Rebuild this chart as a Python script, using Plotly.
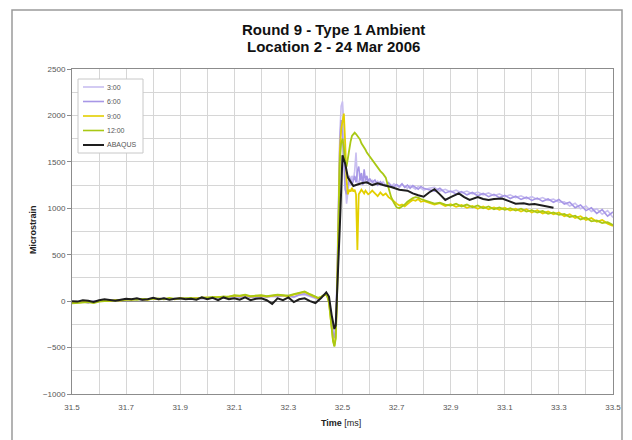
import plotly.graph_objects as go

# ---------------- data ----------------
SERIES_NAMES = ["3:00", "6:00", "9:00", "12:00", "ABAQUS"]
SERIES_COLORS = ["#c9bff0", "#a797e6", "#e3cf00", "#a9c814", "#1e1e1e"]

T_MEAS = [31.50, 31.52, 31.54, 31.56, 31.58, 31.60, 31.62, 31.64, 31.66, 31.68,
          31.70, 31.72, 31.74, 31.76, 31.78, 31.80, 31.82, 31.84, 31.86, 31.88,
          31.90, 31.92, 31.94, 31.96, 31.98, 32.00, 32.02, 32.04, 32.06, 32.08,
          32.10, 32.12, 32.14, 32.16, 32.18, 32.20, 32.22, 32.24, 32.26, 32.28,
          32.30, 32.32, 32.34, 32.36, 32.38, 32.40,
          32.41, 32.42, 32.43, 32.44,
          32.445, 32.45, 32.455, 32.46, 32.465, 32.47, 32.475, 32.48, 32.485, 32.49,
          32.495, 32.50, 32.505, 32.51, 32.515, 32.52, 32.525, 32.53, 32.535, 32.54,
          32.545, 32.55, 32.555, 32.56, 32.565, 32.57, 32.575, 32.58, 32.585, 32.59,
          32.595, 32.60,
          32.61, 32.62, 32.63, 32.64, 32.65, 32.66, 32.67, 32.68, 32.69, 32.70,
          32.71, 32.72, 32.73, 32.74, 32.75, 32.76, 32.77, 32.78, 32.79, 32.80,
          32.82, 32.84, 32.86, 32.88, 32.90, 32.92, 32.94, 32.96, 32.98, 33.00,
          33.02, 33.04, 33.06, 33.08, 33.10, 33.12, 33.14, 33.16, 33.18, 33.20,
          33.22, 33.24, 33.26, 33.28, 33.30, 33.32, 33.34, 33.36, 33.38, 33.40,
          33.42, 33.44, 33.46, 33.48, 33.50]

V_0300 = [-10, -5, 0, -15, -5, 5, 0, 10, 5, 15, 20, 10, 25, 15, 20, 30, 15, 25, 20, 30,
          25, 35, 20, 30, 25, 40, 30, 35, 45, 30, 55, 40, 50, 45, 35, 55, 40, 50, 45, 60,
          50, 40, 65, 70, 50, 30,
          20, 40, 60, 70,
          40, 0, -100, -250, -350, -380, -250, 300, 1200, 1800,
          2100, 2150, 1900, 1300, 1050, 1150, 1300, 1250, 1350, 1300,
          1400, 1600, 1300, 1250, 1350, 1300, 1320, 1280, 1300, 1270,
          1290, 1280,
          1300, 1260, 1290, 1250, 1285, 1245, 1275, 1235, 1265, 1245,
          1225, 1255, 1235, 1215, 1245, 1225, 1205, 1235, 1215, 1195,
          1215, 1225, 1185, 1205, 1175, 1195, 1165, 1185, 1155, 1175,
          1145, 1165, 1135, 1155, 1125, 1145, 1115, 1135, 1105, 1125,
          1095, 1115, 1085, 1100, 1065, 1070, 1025, 1055, 995, 1025,
          965, 995, 935, 975, 900]

V_0600 = [-15, -10, -5, -20, 0, 0, 5, 5, 10, 10, 15, 20, 20, 10, 25, 25, 20, 30, 20, 25,
          30, 30, 25, 35, 30, 35, 40, 30, 45, 40, 50, 45, 55, 40, 45, 50, 45, 55, 50, 55,
          60, 45, 70, 80, 55, 35,
          25, 45, 65, 75,
          45, 10, -80, -220, -330, -400, -300, 200, 1000, 1700,
          1950, 1800, 1500, 1200, 1150, 1250, 1350, 1300, 1250, 1300,
          1350, 1280, 1400, 1450, 1300, 1380, 1250, 1420, 1300, 1350,
          1280, 1320,
          1280, 1305, 1250, 1285, 1255, 1240, 1275, 1245, 1230, 1255,
          1235, 1265, 1225, 1250, 1215, 1245, 1225, 1205, 1235, 1215,
          1200, 1185, 1215, 1165, 1185, 1155, 1180, 1145, 1170, 1135,
          1160, 1125, 1150, 1115, 1140, 1105, 1130, 1095, 1120, 1085,
          1110, 1075, 1100, 1065, 1095, 1045, 1065, 1005, 1035, 975,
          1005, 945, 985, 915, 960]

V_0900 = [-20, -15, -10, -5, -15, 0, 5, 0, 10, 5, 20, 15, 25, 20, 15, 30, 20, 25, 30, 20,
          35, 25, 30, 30, 35, 40, 35, 45, 40, 50, 60, 55, 65, 50, 55, 60, 50, 55, 65, 60,
          55, 70, 85, 100, 70, 45,
          30, 40, 60, 70,
          40, -20, -150, -300, -420, -480, -380, 100, 900, 1600,
          1850, 1950, 2020, 1700, 1300, 1150, 1200, 1180, 1220, 1180,
          1200, 1150, 550, 1150, 1170, 1200, 1180, 1160, 1190, 1170,
          1150, 1160,
          1190, 1160, 1130, 1170, 1140, 1160, 1120, 1100, 1070, 1050,
          1030, 1040, 1020, 1050, 1070, 1090, 1080, 1100, 1070, 1080,
          1060, 1040, 1055, 1025, 1045, 1015, 1035, 1005, 1025, 995,
          1020, 990, 1010, 985, 1005, 975, 995, 965, 990, 955,
          980, 945, 965, 935, 955, 915, 935, 895, 915, 875,
          895, 855, 875, 835, 810]

V_1200 = [-25, -20, -15, -10, -20, -5, 0, 5, 5, 10, 15, 20, 15, 25, 20, 25, 30, 20, 35, 25,
          30, 30, 35, 25, 40, 35, 45, 40, 50, 45, 65, 60, 70, 55, 60, 65, 55, 60, 70, 65,
          60, 75, 90, 105, 75, 50,
          35, 45, 65, 75,
          45, -10, -140, -310, -430, -490, -400, 50, 800, 1500,
          1700, 1750, 1650, 1500, 1450, 1550, 1650, 1720, 1780, 1800,
          1815, 1800, 1780, 1760, 1740, 1700, 1680, 1650, 1630, 1600,
          1580, 1550,
          1510, 1480, 1440, 1400, 1370, 1330, 1220, 1120, 1060, 1010,
          1000, 1020, 1040, 1070, 1090, 1110, 1120, 1115, 1100, 1090,
          1070, 1050, 1060, 1040, 1030, 1050, 1020, 1040, 1010, 1030,
          1000, 1020, 990, 1010, 985, 1000, 975, 995, 965, 980,
          955, 970, 940, 955, 930, 940, 905, 920, 880, 900,
          860, 870, 840, 850, 820]

T_ABQ = [31.50, 31.52, 31.54, 31.56, 31.58, 31.60, 31.62, 31.64, 31.66, 31.68,
         31.70, 31.72, 31.74, 31.76, 31.78, 31.80, 31.82, 31.84, 31.86, 31.88,
         31.90, 31.92, 31.94, 31.96, 31.98, 32.00, 32.02, 32.04, 32.06, 32.08,
         32.10, 32.12, 32.14, 32.16, 32.18, 32.20, 32.22, 32.24, 32.26, 32.28,
         32.30, 32.32, 32.34, 32.36, 32.38, 32.40,
         32.42, 32.44, 32.45, 32.46, 32.47, 32.475, 32.48, 32.49, 32.50, 32.51,
         32.52, 32.53, 32.54, 32.55, 32.57, 32.59, 32.61, 32.63, 32.65, 32.68,
         32.71, 32.74, 32.76, 32.78, 32.80, 32.82, 32.84, 32.86, 32.88, 32.90,
         32.93, 32.95, 32.97, 33.00, 33.02, 33.04, 33.06, 33.09, 33.11, 33.14,
         33.17, 33.19, 33.21, 33.24, 33.26, 33.28]

V_ABQ = [0, -5, 10, 5, -10, 10, 20, 10, 5, 15, 25, 20, 30, 15, 20, 35, 20, 30, 15, 25,
         30, 20, 25, 15, 40, 20, 35, 10, 40, 20, 30, 15, 40, 10, 25, 30, 10, -30, 30, 10,
         40, -10, 20, 30, 0, -20,
         30, 95, 50, -150, -300, -260, 50, 800, 1570, 1480,
         1330, 1290, 1240, 1250, 1270, 1280, 1250, 1270, 1250, 1230,
         1200, 1190, 1160, 1140, 1125, 1170, 1205, 1150, 1090, 1120,
         1160, 1120, 1090, 1120, 1100, 1090, 1100, 1105, 1080, 1050,
         1055, 1040, 1045, 1030, 1020, 1005]

X_TICKS = [31.5, 31.7, 31.9, 32.1, 32.3, 32.5, 32.7, 32.9, 33.1, 33.3, 33.5]
Y_TICKS = [-1000, -500, 0, 500, 1000, 1500, 2000, 2500]

TITLE_LINES = ["Round 9 - Type 1 Ambient", "Location 2 - 24 Mar 2006"]

# ---------------- figure ----------------
W, H = 632, 440
L, R, T, B = 72, 19, 69, 46
PW, PH = W - L - R, H - T - B


def px(x):
    return (x - L) / PW


def py(y):
    return (H - B - y) / PH


series_x = [T_MEAS, T_MEAS, T_MEAS, T_MEAS, T_ABQ]
series_y = [V_0300, V_0600, V_0900, V_1200, V_ABQ]
widths = [1.6, 1.6, 1.8, 1.8, 2.0]

fig = go.Figure()
for name, col, xs, ys, w in zip(SERIES_NAMES, SERIES_COLORS, series_x, series_y, widths):
    fig.add_trace(go.Scatter(x=xs, y=ys, mode="lines", name=name,
                             line=dict(color=col, width=w), showlegend=False))

font_main = "Liberation Sans, Arial, sans-serif"

shapes = []
annotations = []

# outer chart-area frame
shapes.append(dict(type="rect", xref="paper", yref="paper",
                   x0=px(12), x1=px(622), y0=py(441), y1=py(10),
                   line=dict(color="#9a9a9a", width=1.5), layer="below"))

# custom legend box
lx0, lx1, ly0, ly1 = 78, 143, 79, 153
shapes.append(dict(type="rect", xref="paper", yref="paper",
                   x0=px(lx0), x1=px(lx1), y0=py(ly1), y1=py(ly0),
                   line=dict(color="#c8c8c8", width=1), fillcolor="white", layer="above"))
for i, (name, col) in enumerate(zip(SERIES_NAMES, SERIES_COLORS)):
    yy = 87 + i * 14.5
    shapes.append(dict(type="line", xref="paper", yref="paper",
                       x0=px(83), x1=px(104), y0=py(yy), y1=py(yy),
                       line=dict(color=col, width=2 if i == 4 else 1.6), layer="above"))
    annotations.append(dict(text=name, xref="paper", yref="paper", x=px(105), y=py(yy),
                            xanchor="left", yanchor="middle", showarrow=False,
                            font=dict(family=font_main, size=7, color="#555555")))

# title lines
for i, line in enumerate(TITLE_LINES):
    annotations.append(dict(text="<b>" + line + "</b>", xref="paper", yref="paper",
                            x=px(333), y=py(29 + 18 * i), showarrow=False,
                            xanchor="center", yanchor="middle",
                            font=dict(family=font_main, size=15, color="#111111")))

# axis titles
annotations.append(dict(text="<b>Microstrain</b>", xref="paper", yref="paper",
                        x=px(33), y=py(230), textangle=-90, showarrow=False,
                        xanchor="center", yanchor="middle",
                        font=dict(family=font_main, size=9, color="#222222")))
annotations.append(dict(text="<b>Time</b> [ms]", xref="paper", yref="paper",
                        x=px(341), y=py(423), showarrow=False,
                        xanchor="center", yanchor="middle",
                        font=dict(family=font_main, size=9, color="#222222")))

fig.update_layout(
    width=W, height=H,
    margin=dict(l=L, r=R, t=T, b=B, pad=0),
    paper_bgcolor="white", plot_bgcolor="white",
    shapes=shapes, annotations=annotations,
    showlegend=False,
)

fig.update_xaxes(range=[31.5, 33.5], tickvals=X_TICKS,
                 ticktext=[f"{v:.1f}" for v in X_TICKS],
                 showgrid=True, gridcolor="#d6d6d6", gridwidth=1,
                 minor=dict(dtick=0.1, tick0=31.5, showgrid=True, gridcolor="#d6d6d6", gridwidth=1),
                 showline=True, linecolor="#8c8c8c", linewidth=1, mirror=True,
                 ticks="", zeroline=False, ticklabelstandoff=5,
                 tickfont=dict(family=font_main, size=8, color="#555555"))
fig.update_yaxes(range=[-1000, 2500], tickvals=Y_TICKS,
                 showgrid=True, gridcolor="#d6d6d6", gridwidth=1,
                 minor=dict(dtick=250, tick0=0, showgrid=True, gridcolor="#d6d6d6", gridwidth=1),
                 showline=True, linecolor="#8c8c8c", linewidth=1, mirror=True,
                 ticks="outside", ticklen=4, tickcolor="#8c8c8c",
                 zeroline=True, zerolinecolor="#8c8c8c", zerolinewidth=1,
                 tickfont=dict(family=font_main, size=8, color="#555555"))

fig.write_html("out.html",
               config={"displayModeBar": False},
               post_script="document.body.style.margin='0';document.body.style.overflow='hidden';")
